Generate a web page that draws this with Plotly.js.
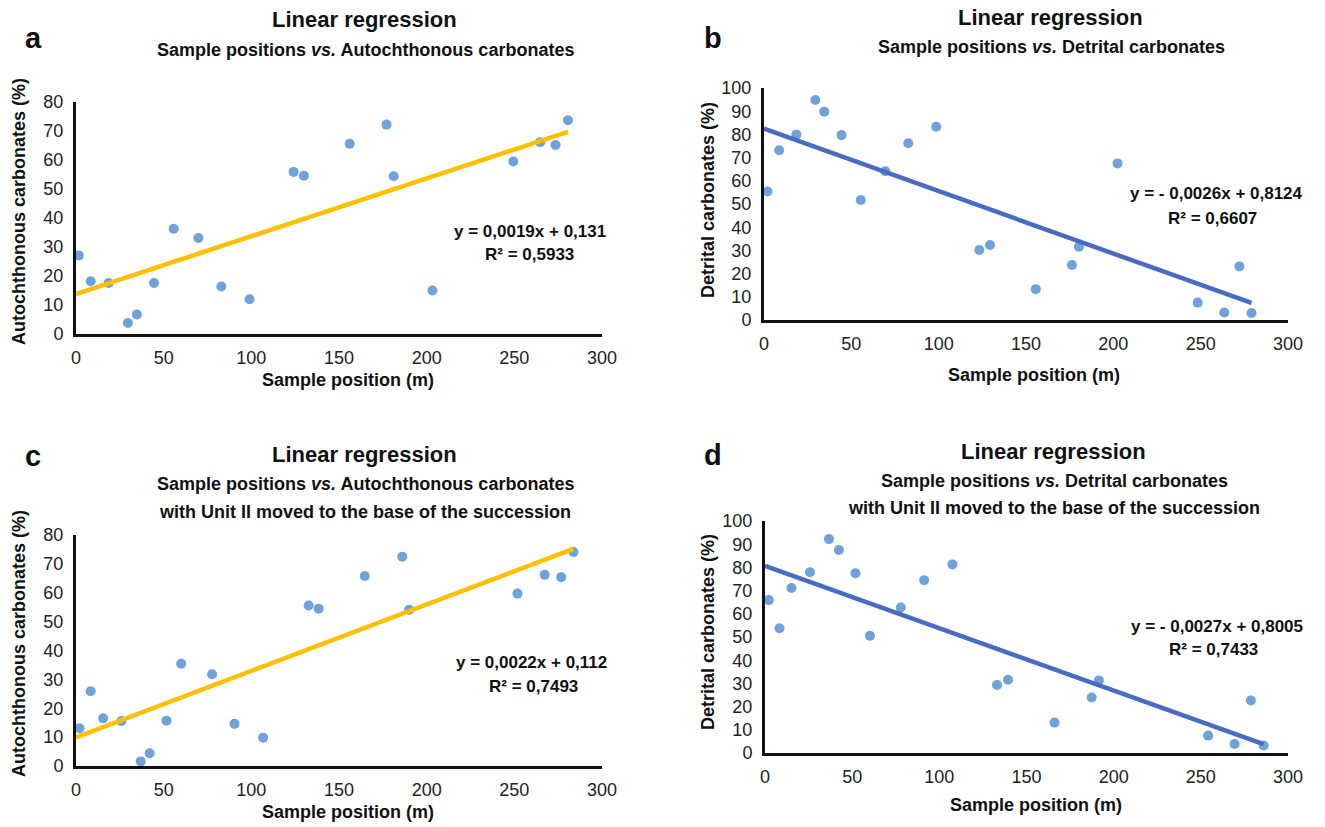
<!DOCTYPE html>
<html>
<head>
<meta charset="utf-8">
<script src="https://cdn.plot.ly/plotly-3.0.1.min.js"></script>
<style>html,body{margin:0;padding:0;background:#fff;}#chart{width:1325px;height:827px;}</style>
</head>
<body>
<div id="chart"></div>
<script>
// ---- Data ----
// Panel a: sample position (m) vs autochthonous carbonates (%)
const xA = [1.6, 8.4, 18.6, 29.6, 34.7, 44.5, 55.7, 69.8, 82.9, 99.0, 124.1, 130.0, 156.1, 177.1, 181.2, 203.3, 249.4, 264.7, 273.5, 280.6];
const yA = [27.1, 18.2, 17.6, 3.8, 6.7, 17.6, 36.3, 33.1, 16.4, 12.0, 55.9, 54.6, 65.6, 72.2, 54.4, 15.0, 59.5, 66.1, 65.2, 73.7];
// Panel b: sample position (m) vs detrital carbonates (%)
const xB = [2.0, 8.7, 18.5, 29.4, 34.5, 44.4, 55.4, 69.4, 82.6, 98.6, 123.3, 129.4, 155.6, 176.3, 180.3, 202.4, 248.3, 263.5, 272.2, 279.1];
const yB = [55.4, 73.2, 79.9, 94.8, 89.8, 79.7, 51.7, 64.1, 76.2, 83.3, 30.2, 32.3, 13.3, 23.7, 31.6, 67.5, 7.5, 3.2, 23.1, 3.0];
// Panel c: Unit II moved to base - autochthonous carbonates (%)
const xC = [2.0, 8.4, 15.5, 25.9, 36.9, 42.0, 51.6, 60.0, 77.6, 90.4, 106.7, 132.7, 138.4, 164.7, 186.1, 190.0, 251.8, 267.3, 276.7, 283.7];
const yC = [13.1, 25.9, 16.5, 15.6, 1.6, 4.4, 15.7, 35.4, 31.8, 14.6, 9.8, 55.6, 54.5, 65.8, 72.5, 54.1, 59.7, 66.2, 65.4, 74.1];
// Panel d: Unit II moved to base - detrital carbonates (%)
const xD = [2.2, 8.3, 15.2, 25.8, 36.7, 42.4, 51.9, 60.2, 77.9, 91.3, 107.5, 133.1, 139.4, 166.1, 187.4, 191.5, 254.2, 269.4, 278.7, 286.0];
const yD = [65.9, 53.8, 71.1, 77.9, 92.2, 87.5, 77.5, 50.5, 62.7, 74.5, 81.3, 29.3, 31.6, 13.1, 23.9, 31.3, 7.5, 3.9, 22.6, 3.2];

const equations = ["y = 0,0019x + 0,131", "y = - 0,0026x + 0,8124", "y = 0,0022x + 0,112", "y = - 0,0027x + 0,8005"];
const rSquared = ["0,5933", "0,6607", "0,7493", "0,7433"];
const panelLetters = ["a", "b", "c", "d"];
const mainTitle = "Linear regression";
const subtitles = [
  ["Sample positions <i>vs.</i> Autochthonous carbonates"],
  ["Sample positions <i>vs.</i> Detrital carbonates"],
  ["Sample positions <i>vs.</i> Autochthonous carbonates", "with Unit II moved to the base of the succession"],
  ["Sample positions <i>vs.</i> Detrital carbonates", "with Unit II moved to the base of the succession"]
];
const yTitles = ["Autochthonous carbonates (%)", "Detrital carbonates (%)", "Autochthonous carbonates (%)", "Detrital carbonates (%)"];
const xTitle = "Sample position (m)";

// ---- Layout helpers ----
const W = 1325, H = 827;
const FONT = "Liberation Sans, Arial, Helvetica, sans-serif";
const px = v => v / W;
const py = v => 1 - v / H;

function fit(x, y) {
  const n = x.length;
  const mx = x.reduce((a, b) => a + b, 0) / n;
  const my = y.reduce((a, b) => a + b, 0) / n;
  let sxy = 0, sxx = 0;
  for (let i = 0; i < n; i++) { sxy += (x[i] - mx) * (y[i] - my); sxx += (x[i] - mx) ** 2; }
  const m = sxy / sxx;
  return { m, b: my - m * mx };
}

const panels = [
  { x: xA, y: yA, color: "#FFC000", ymax: 80, xd: [76, 602], yd: [334, 102], letter: [33, 38], title: [364, 20], subs: [50], eq: [530, 232], r2: [529, 255], ytl: [19, 212], xtl: [348, 380] },
  { x: xB, y: yB, color: "#4A6CC0", ymax: 100, xd: [764, 1288], yd: [320, 88], letter: [713, 38], title: [1050, 18], subs: [47], eq: [1216, 193], r2: [1212, 219], ytl: [708, 200], xtl: [1034, 375] },
  { x: xC, y: yC, color: "#FFC000", ymax: 80, xd: [76, 602], yd: [766, 535], letter: [33, 456], title: [364, 454], subs: [484, 512], eq: [531, 662], r2: [533, 686], ytl: [19, 644], xtl: [348, 812] },
  { x: xD, y: yD, color: "#4A6CC0", ymax: 100, xd: [765, 1288], yd: [753, 521], letter: [713, 455], title: [1053, 451], subs: [481, 508], eq: [1217, 626], r2: [1213, 649], ytl: [708, 632], xtl: [1036, 805] }
];

const data = [];
const annotations = [];
const layout = {
  width: W, height: H,
  margin: { l: 0, r: 0, t: 0, b: 0 },
  paper_bgcolor: "#fff", plot_bgcolor: "#fff",
  showlegend: false,
  font: { family: FONT, color: "#111" },
  annotations
};

function ann(text, x, y, size, extra) {
  annotations.push(Object.assign({
    text, x: px(x), y: py(y), xref: "paper", yref: "paper",
    showarrow: false, xanchor: "center", yanchor: "middle",
    font: { family: FONT, size, color: "#111" }
  }, extra || {}));
}

panels.forEach((p, i) => {
  const s = i === 0 ? "" : String(i + 1);
  const xa = "x" + s, ya = "y" + s;
  const f = fit(p.x, p.y);
  const xmax = Math.max(...p.x);
  const xl = [0, xmax];
  data.push({
    x: p.x, y: p.y, xaxis: xa, yaxis: ya, type: "scatter", mode: "markers",
    marker: { color: "#6FA1DA", size: 10 }, cliponaxis: false, hoverinfo: "skip"
  });
  data.push({
    x: xl, y: xl.map(v => f.m * v + f.b), xaxis: xa, yaxis: ya, type: "scatter", mode: "lines",
    line: { color: p.color, width: 4.5 }, cliponaxis: false, hoverinfo: "skip"
  });
  const axBase = {
    showgrid: false, zeroline: false, showline: true, linecolor: "#111", linewidth: 3,
    ticks: "", tickfont: { family: FONT, size: 18, color: "#222" }, fixedrange: true
  };
  layout["xaxis" + s] = Object.assign({}, axBase, {
    domain: [px(p.xd[0]), px(p.xd[1])], range: [0, 300], dtick: 50, tick0: 0,
    anchor: ya, ticklabelstandoff: 5
  });
  layout["yaxis" + s] = Object.assign({}, axBase, {
    domain: [py(p.yd[0]), py(p.yd[1])], range: [0, p.ymax], dtick: 10, tick0: 0,
    anchor: xa, ticklabelstandoff: 6
  });
  ann("<b>" + panelLetters[i] + "</b>", p.letter[0], p.letter[1], 29);
  ann("<b>" + mainTitle + "</b>", p.title[0], p.title[1], 22);
  subtitles[i].forEach((t, k) => ann("<b>" + t + "</b>", p.title[0] + 1, p.subs[k], 18));
  ann("<b>" + equations[i] + "</b>", p.eq[0], p.eq[1], 17);
  ann("<b>R\u00B2 = " + rSquared[i] + "</b>", p.r2[0], p.r2[1], 17);
  ann("<b>" + yTitles[i] + "</b>", p.ytl[0], p.ytl[1], 18, { textangle: -90 });
  ann("<b>" + xTitle + "</b>", p.xtl[0], p.xtl[1], 18);
});

Plotly.newPlot("chart", data, layout, { staticPlot: true, displayModeBar: false });
</script>
</body>
</html>
